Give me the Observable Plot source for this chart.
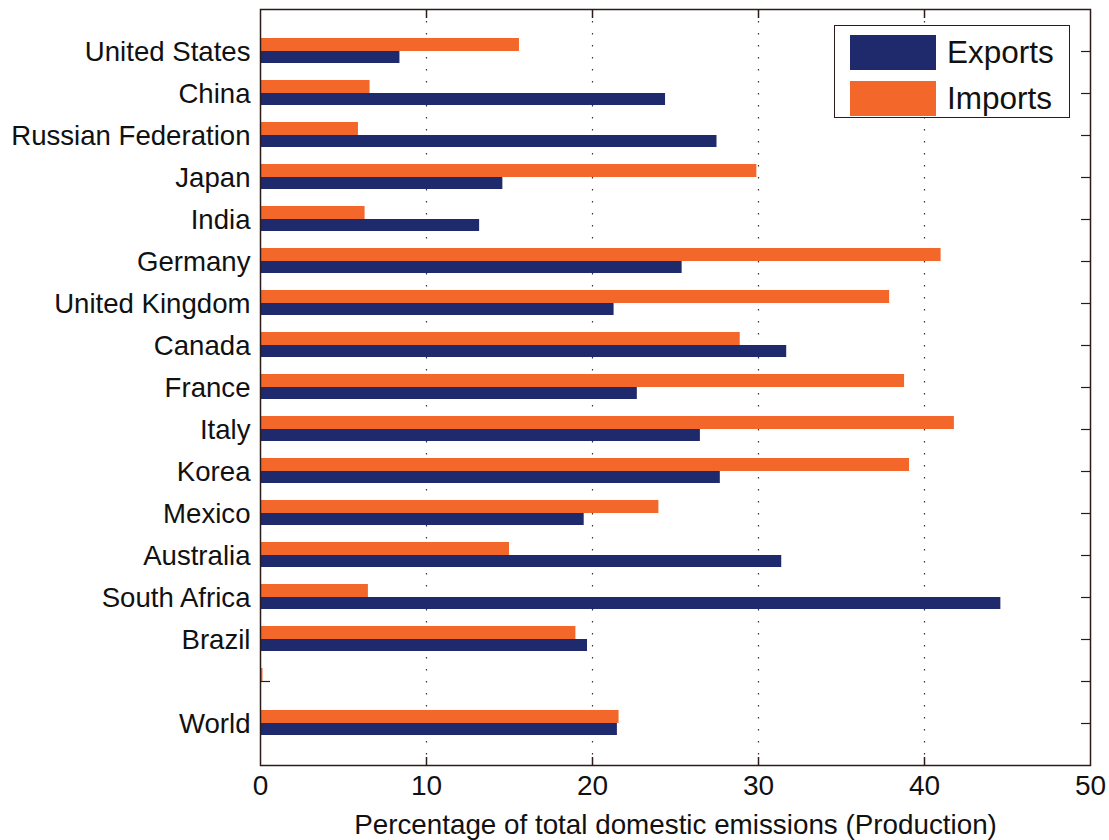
<!DOCTYPE html>
<html><head><meta charset="utf-8">
<script src="https://cdn.jsdelivr.net/npm/d3@7"></script>
<script src="https://cdn.jsdelivr.net/npm/@observablehq/plot@0.6"></script>
<style>
body{margin:0;background:#fff;}
#wrap{position:relative;width:1109px;height:840px;font-family:"Liberation Sans",Arial,Helvetica,sans-serif;color:#111;}
#legend{position:absolute;left:834px;top:25px;width:236px;height:93px;border:1.5px solid #2b1b1b;background:#fff;box-sizing:border-box;}
.item{position:absolute;left:15px;height:35px;}
.sw{position:absolute;left:0;top:0;width:86px;height:35px;}
.lab{position:absolute;left:97px;top:0;line-height:35px;font-size:31.5px;white-space:nowrap;}
</style></head>
<body><div id="wrap"></div>
<script>
const countries = ["United States","China","Russian Federation","Japan","India","Germany","United Kingdom","Canada","France","Italy","Korea","Mexico","Australia","South Africa","Brazil","","World"];
const exportsPct = [8.4,24.4,27.5,14.6,13.2,25.4,21.3,31.7,22.7,26.5,27.7,19.5,31.4,44.6,19.7,0,21.5];
const importsPct = [15.6,6.6,5.9,29.9,6.3,41.0,37.9,28.9,38.8,41.8,39.1,24.0,15.0,6.5,19.0,0.15,21.6];
const xTicks = [0,10,20,30,40,50];
const gridTicks = [10,20,30,40];
const seriesNames = ["Exports","Imports"];
const xLabel = "Percentage of total domestic emissions (Production)";

const navy = "#1e2a6c", orange = "#f4672b", ink = "#2b1b1b";
const rows = countries.map((c,i)=>({country:c, exports:exportsPct[i], imports:importsPct[i]}));

const chart = Plot.plot({
  width: 1109, height: 840,
  marginLeft: 260, marginRight: 19, marginTop: 9, marginBottom: 75,
  style: {fontFamily: '"Liberation Sans", Arial, sans-serif', color: "#111", background: "#fff"},
  x: {domain: [0,50]},
  y: {domain: countries, paddingInner: 0, paddingOuter: 0.5, align: 0.5},
  marks: [
    Plot.ruleX(gridTicks, {stroke: "#333", strokeWidth: 1.2, strokeDasharray: "1.5,10.5"}),
    Plot.axisY({tickSize: -10, fill: "none", stroke: ink, strokeWidth: 1.2, label: null}),
    Plot.axisY({anchor: "right", tickSize: -10, fill: "none", stroke: ink, strokeWidth: 1.2, label: null}),
    Plot.axisX({anchor: "top", ticks: gridTicks, tickSize: -8, fill: "none", stroke: ink, strokeWidth: 1.5, label: null}),
    Plot.axisX({anchor: "bottom", ticks: gridTicks, tickSize: -8, fill: "none", stroke: ink, strokeWidth: 1.5, label: null}),
    Plot.barX(rows, {y: "country", x: "imports", fill: orange, insetTop: 8, insetBottom: 21}),
    Plot.barX(rows, {y: "country", x: "exports", fill: navy, insetTop: 21, insetBottom: 9}),
    Plot.frame({stroke: ink, strokeWidth: 1.5}),
    Plot.axisY({tickSize: 0, tickPadding: 10, fontSize: 27.6, fill: "#111", label: null, dy: 1}),
    Plot.axisX({ticks: xTicks, tickSize: 0, tickPadding: 10, fontSize: 28, fill: "#111", label: null}),
    Plot.text([xLabel], {frameAnchor: "bottom", dy: 60, fontSize: 27.8, fill: "#111", lineAnchor: "middle"})
  ]
});
const wrap = document.getElementById("wrap");
wrap.appendChild(chart);
const lg = document.createElement("div");
lg.id = "legend";
[navy, orange].forEach((c,i)=>{
  const it = document.createElement("div");
  it.className = "item";
  it.style.top = (i===0 ? 9 : 55) + "px";
  it.innerHTML = `<div class="sw" style="background:${c}"></div><div class="lab">${seriesNames[i]}</div>`;
  lg.appendChild(it);
});
wrap.appendChild(lg);
</script></body></html>
